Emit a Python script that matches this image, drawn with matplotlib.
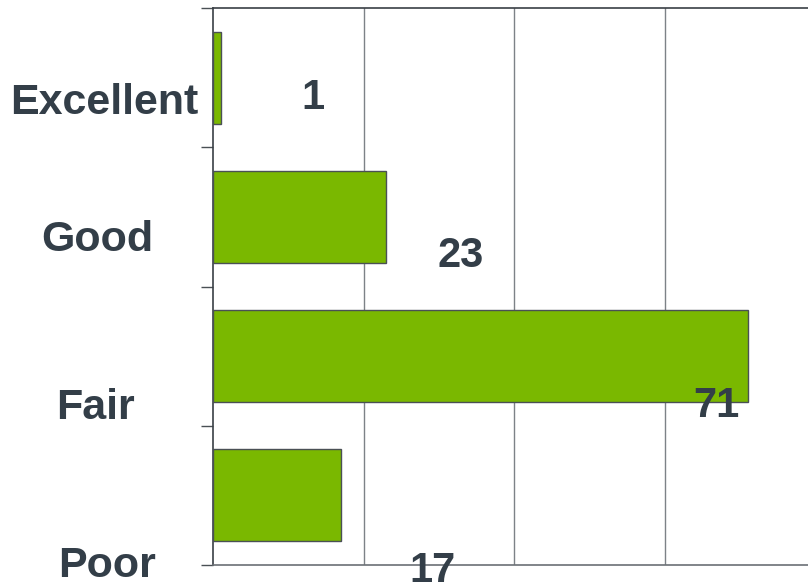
import matplotlib.pyplot as plt

# survey ratings
categories = ["Excellent", "Good", "Fair", "Poor"]
counts = [1, 23, 71, 17]

# where the labels sit (data coords, as in the original slide)
cat_label_pos = [(-14.5, 3.32), (-15.3, 2.335), (-15.6, 1.13), (-14.0, -0.005)]
val_label_pos = [(13.3, 3.355), (32.9, 2.22), (66.9, 1.143), (29.2, -0.04)]

textcolor = "#333e48"
barcolor = "#7ab800"

plt.rcParams['font.family'] = ['Liberation Sans', 'DejaVu Sans']

fig = plt.figure(figsize=(8.08, 5.82), dpi=100)
ax = fig.add_axes([213 / 808, 17 / 582, 1 - 213 / 808, 557 / 582])

ypos = [3.5, 2.5, 1.5, 0.5]
ax.barh(ypos, counts, height=0.66, color=barcolor, edgecolor="#4a5055", linewidth=1, zorder=3)

ax.set_xlim(0, 79.0)
ax.set_ylim(0, 4)

for x in [20, 40, 60, 80]:
    ax.axvline(x, color="#7d8287", linewidth=1, zorder=1)

ax.set_xticks([])
ax.set_yticks([0, 1, 2, 3, 4])
ax.set_yticklabels([])
ax.tick_params(axis="y", direction="out", length=9, width=1, color="#4a5055")

ax.spines["right"].set_visible(False)
ax.spines["left"].set_color("#3a4046")
ax.spines["top"].set_color("#3a4046")
ax.spines["bottom"].set_color("#6b7075")
for s in ["left", "top", "bottom"]:
    ax.spines[s].set_linewidth(1.2)

for (x, y), name in zip(cat_label_pos, categories):
    ax.text(x, y, name, ha="center", va="center", fontsize=31, fontweight="bold",
            color=textcolor, clip_on=False)

for (x, y), v in zip(val_label_pos, counts):
    ax.text(x, y, str(v), ha="center", va="center", fontsize=30, fontweight="bold",
            color=textcolor, clip_on=False, zorder=4)

fig.savefig("out.png", dpi=100)
